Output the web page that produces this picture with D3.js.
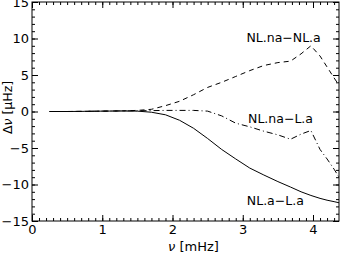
<!DOCTYPE html>
<html>
<head>
<meta charset="utf-8">
<script src="https://cdn.jsdelivr.net/npm/d3@7"></script>
<style>
  body { margin: 0; background: #fff; }
  text { font-family: "DejaVu Sans", sans-serif; fill: #000; }
</style>
</head>
<body>
<div id="chart"></div>
<script>
// frequency grid (mHz)
var freq = [0.25, 0.5, 0.75, 1.0, 1.25, 1.5, 1.7, 1.9, 2.1, 2.3, 2.5, 2.7, 2.9, 3.1, 3.3, 3.5, 3.68, 3.83, 3.97, 4.1, 4.2, 4.3, 4.37];

// frequency differences (microHz)
var naMinusA = [0, 0, 0.02, 0.05, 0.08, 0.15, 0.3, 0.8, 1.4, 2.3, 3.3, 4.0, 4.8, 5.6, 6.3, 6.7, 6.9, 7.9, 9.0, 7.6, 6.1, 4.6, 3.6];
var naMinusLa = [0, 0, 0.02, 0.05, 0.08, 0.1, 0.12, 0.15, 0.15, 0.15, 0.05, -0.6, -1.6, -2.1, -2.7, -3.2, -3.8, -3.1, -2.6, -5.2, -6.5, -7.9, -9.0];
var aMinusLa = [0, 0, 0.02, 0.05, 0.07, 0.05, -0.1, -0.45, -1.2, -2.3, -3.7, -5.2, -6.5, -7.75, -8.7, -9.6, -10.35, -11.0, -11.5, -11.9, -12.15, -12.35, -12.5];

var xTicks = [0, 1, 2, 3, 4];
var yTicks = [-15, -10, -5, 0, 5, 10, 15];

var series = [
  {name: "NL.na\u2212NL.a", values: naMinusA, dash: "5,4", lx: 4.11, ly: 9.55},
  {name: "NL.na\u2212L.a", values: naMinusLa, dash: "6,3,1,3", lx: 4.0, ly: -1.6},
  {name: "NL.a\u2212L.a", values: aMinusLa, dash: null, lx: 3.87, ly: -12.8}
];

var W = 341, H = 255;
var margin = {top: 2, right: 2, bottom: 34, left: 32};
var width = W - margin.left - margin.right,
    height = H - margin.top - margin.bottom;

var svg = d3.select("#chart").append("svg")
  .attr("width", W)
  .attr("height", H)
  .append("g")
  .attr("transform", "translate(" + margin.left + "," + margin.top + ")");

var x = d3.scaleLinear().domain([0, 4.37]).range([0, width]);
var y = d3.scaleLinear().domain([-15, 15]).range([height, 0]);

var xMinor = d3.range(0, 4.37, 0.1);
var yMinor = d3.range(-15, 15.01, 1);

function styleAxis(g) {
  g.select(".domain").remove();
  g.selectAll("line").attr("stroke", "#000").attr("stroke-width", 1);
  g.selectAll("text").style("font-size", "13px").attr("fill", "#000");
}

// bottom
svg.append("g").attr("transform", "translate(0," + height + ")")
  .call(d3.axisBottom(x).tickValues(xMinor).tickSize(-3).tickFormat(""))
  .call(styleAxis);
svg.append("g").attr("transform", "translate(0," + height + ")")
  .call(d3.axisBottom(x).tickValues(xTicks).tickSize(-6).tickPadding(4).tickFormat(d3.format("d")))
  .call(styleAxis);
// top
svg.append("g")
  .call(d3.axisTop(x).tickValues(xMinor).tickSize(-3).tickFormat(""))
  .call(styleAxis);
svg.append("g")
  .call(d3.axisTop(x).tickValues(xTicks).tickSize(-6).tickFormat(""))
  .call(styleAxis);
// left
svg.append("g")
  .call(d3.axisLeft(y).tickValues(yMinor).tickSize(-3).tickFormat(""))
  .call(styleAxis);
svg.append("g")
  .call(d3.axisLeft(y).tickValues(yTicks).tickSize(-6).tickPadding(3).tickFormat(d3.format("d")))
  .call(styleAxis);
// right
svg.append("g").attr("transform", "translate(" + width + ",0)")
  .call(d3.axisRight(y).tickValues(yMinor).tickSize(-3).tickFormat(""))
  .call(styleAxis);
svg.append("g").attr("transform", "translate(" + width + ",0)")
  .call(d3.axisRight(y).tickValues(yTicks).tickSize(-6).tickFormat(""))
  .call(styleAxis);

// frame
svg.append("rect")
  .attr("x", 0).attr("y", 0)
  .attr("width", width).attr("height", height)
  .attr("fill", "none")
  .attr("stroke", "#000")
  .attr("stroke-width", 1);

var line = d3.line()
  .x(function(d, i) { return x(freq[i]); })
  .y(function(d) { return y(d); });

series.forEach(function(s) {
  svg.append("path")
    .datum(s.values)
    .attr("d", line)
    .attr("fill", "none")
    .attr("stroke", "#000")
    .attr("stroke-width", 1)
    .attr("stroke-dasharray", s.dash);

  svg.append("text")
    .attr("x", x(s.lx))
    .attr("y", y(s.ly))
    .attr("text-anchor", "end")
    .style("font-size", "12.5px")
    .text(s.name);
});

// axis titles
var xt = svg.append("text")
  .attr("x", width / 2 + 8)
  .attr("y", height + 30)
  .attr("text-anchor", "middle")
  .style("font-size", "13px");
xt.append("tspan").style("font-style", "italic").text("\u03bd");
xt.append("tspan").text(" [mHz]");

var yt = svg.append("text")
  .attr("transform", "translate(-20.5," + (y(0) - 4) + ") rotate(-90)")
  .attr("text-anchor", "middle")
  .style("font-size", "12.5px");
yt.append("tspan").text("\u0394");
yt.append("tspan").style("font-style", "italic").text("\u03bd");
yt.append("tspan").text(" [\u03bcHz]");
</script>
</body>
</html>
